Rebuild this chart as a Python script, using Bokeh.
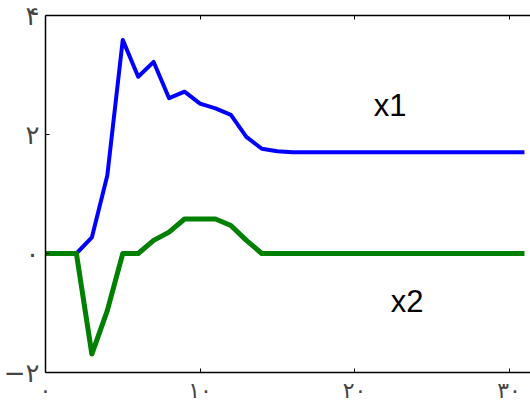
from bokeh.plotting import figure
from bokeh.models import LinearAxis, FixedTicker, Range1d
from bokeh.core.properties import value
from bokeh.embed import file_html
from bokeh.resources import INLINE

# Data
t = list(range(0, 32))
x1 = [0, 0, 0, 0.27, 1.31, 3.59, 2.97, 3.22, 2.61, 2.72, 2.52, 2.44, 2.33, 1.96, 1.76, 1.72,
      1.70, 1.70, 1.70, 1.70, 1.70, 1.70, 1.70, 1.70, 1.70, 1.70, 1.70, 1.70, 1.70, 1.70, 1.70, 1.70]
x2 = [0, 0, 0, -1.69, -0.96, 0, 0, 0.22, 0.36, 0.58, 0.58, 0.58, 0.47, 0.22, 0, 0,
      0, 0, 0, 0, 0, 0, 0, 0, 0, 0, 0, 0, 0, 0, 0, 0]

x_ticks = [0, 10, 20, 30]
x_tick_labels = ["۰", "۱۰", "۲۰", "۳۰"]
y_ticks = [-2, 0, 2, 4]
y_tick_labels = ["−۲", "۰", "۲", "۴"]

series_labels = ["x1", "x2"]
label_x = [22.3, 23.4]
label_y = [2.49, -0.8]

frame_w, frame_h = 486, 357
p = figure(frame_width=frame_w, frame_height=frame_h,
           x_range=Range1d(0, frame_w / 15.45), y_range=Range1d(-2, 4),
           output_backend="svg", toolbar_location=None,
           x_axis_location=None, y_axis_location=None,
           min_border_left=44, min_border_right=0, min_border_top=15, min_border_bottom=34)
p.outline_line_color = None
p.xgrid.visible = False
p.ygrid.visible = False
p.background_fill_color = "white"
p.border_fill_color = "white"

font = "DejaVu Sans"

xa = LinearAxis(ticker=FixedTicker(ticks=x_ticks),
                major_label_overrides=dict(zip(x_ticks, x_tick_labels)))
xa.major_tick_in = 4
xa.major_tick_out = 0
xa.minor_tick_line_color = None
xa.major_label_standoff = 5
xa.major_label_text_font = font
xa.major_label_text_font_size = "22px"
xa.axis_line_width = 1.5
p.add_layout(xa, "below")

ta = LinearAxis(ticker=FixedTicker(ticks=x_ticks[1:]),
                major_label_overrides={k: "" for k in x_ticks[1:]})
ta.major_tick_in = 4
ta.major_tick_out = 0
ta.minor_tick_line_color = None
ta.major_label_standoff = 0
ta.axis_line_width = 1.5
p.add_layout(ta, "above")

ya = LinearAxis(ticker=FixedTicker(ticks=y_ticks),
                major_label_overrides=dict(zip(y_ticks, y_tick_labels)))
ya.major_tick_in = 4
ya.major_tick_out = 0
ya.minor_tick_line_color = None
ya.major_label_standoff = 6
ya.major_label_text_font = font
ya.major_label_text_font_size = "26px"
ya.axis_line_width = 1.5
p.add_layout(ya, "left")

p.line(t, x1, line_color="#0000ff", line_width=4, line_join="round")
p.line(t, x2, line_color="#008000", line_width=5, line_join="round")

p.text(x=label_x, y=label_y, text=series_labels, text_align="center",
       text_baseline="alphabetic", text_font=value("Liberation Sans"),
       text_font_size="31px", text_color="black")

open("out.html", "w").write(file_html(p, INLINE))
